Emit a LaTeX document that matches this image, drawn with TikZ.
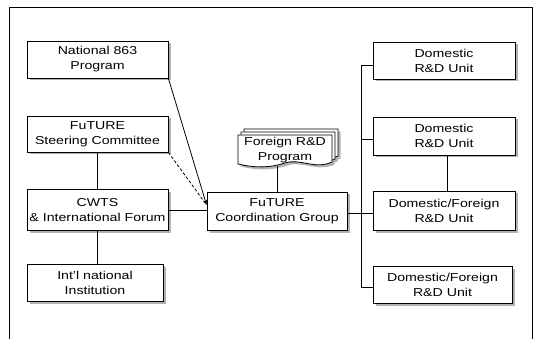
\documentclass[tikz,border=0pt]{standalone}
\usepackage{fontspec}
\setmainfont[FakeStretch=1.23]{Liberation Sans}
\usetikzlibrary{shadows,arrows.meta}
\begin{document}
\begin{tikzpicture}[x=1pt,y=-1pt,
  link/.style={line width=0.8pt},
  boxtext/.style={font=\fontsize{11.5}{15}\selectfont, align=center},
  box/.style={boxtext, draw, line width=0.8pt, fill=white, inner sep=1pt,
    drop shadow={shadow xshift=2.5pt, shadow yshift=-2.5pt, fill=gray!60, opacity=1}}]
\useasboundingbox (0,0) rectangle (535,339);
% outer frame
\draw[link] (9,339) -- (9,7) -- (532,7) -- (532,339);

% left column
\node[box, minimum width=141pt, minimum height=37pt] (nat) at (97.5,59.5) {National 863\\Program};
\node[box, minimum width=141pt, minimum height=36pt] (steer) at (97.5,134) {FuTURE\\Steering Committee};
\node[box, minimum width=141pt, minimum height=41pt] (cwts) at (97.5,210) {CWTS\\\& International Forum};
\node[box, minimum width=136pt, minimum height=37pt] (intl) at (95,282.5) {Int'l national\\Institution};

% centre
\node[box, minimum width=140pt, minimum height=38pt] (coord) at (277,211) {FuTURE\\Coordination Group};

% stacked document: Foreign R&D Program
\foreach \k in {6,3,0}{
  \fill[gray!60] (240.5+\k,137.5-\k) -- (334.5+\k,137.5-\k) -- (334.5+\k,164.5-\k)
    .. controls (317.5+\k,172.5-\k) and (302.5+\k,160.5-\k) .. (287.5+\k,165.5-\k)
    .. controls (272.5+\k,170.5-\k) and (257.5+\k,170.5-\k) .. (240.5+\k,166.5-\k) -- cycle;
}
\foreach \k in {6,3,0}{
  \draw[link, fill=white] (238+\k,135-\k) -- (332+\k,135-\k) -- (332+\k,162-\k)
    .. controls (315+\k,170-\k) and (300+\k,158-\k) .. (285+\k,163-\k)
    .. controls (270+\k,168-\k) and (255+\k,168-\k) .. (238+\k,164-\k) -- cycle;
}
\node[boxtext, minimum width=94pt, minimum height=30pt, inner sep=0pt] (foreign) at (285,150.5) {Foreign R\&D\\Program};

% right column
\node[box, minimum width=142pt, minimum height=37pt] (d1) at (444,60.5) {Domestic\\R\&D Unit};
\node[box, minimum width=142pt, minimum height=38pt] (d2) at (444,136) {Domestic\\R\&D Unit};
\node[box, minimum width=142pt, minimum height=39pt] (df1) at (444,210.5) {Domestic/Foreign\\R\&D Unit};
\node[box, minimum width=139pt, minimum height=37pt] (df2) at (442.5,284.5) {Domestic/Foreign\\R\&D Unit};

% connectors, left side
\coordinate (cin) at ([yshift=6pt]coord.west);
\draw[link] (steer.south) -- (steer.south |- cwts.north);
\draw[link] (cwts.south) -- (cwts.south |- intl.north);
\draw[link] (cwts.east) -- (cwts.east -| coord.west);
\draw[link, -{Stealth[length=5pt,width=3.5pt]}] (nat.south east) -- (cin);
\draw[link, dash pattern=on 3pt off 2pt] (steer.south east) -- (cin);
\draw[link] (coord.north) -- (coord.north |- foreign.south);

% right bus
\coordinate (b1) at (361,65);
\coordinate (b2) at (361,139);
\coordinate (b3) at (361,213);
\coordinate (b4) at (361,287);
\draw[link] (b1) -- (b4);
\draw[link] (b1) -- (b1 -| d1.west);
\draw[link] (b2) -- (b2 -| d2.west);
\draw[link] (b3) -- (b3 -| df1.west);
\draw[link] (b4) -- (b4 -| df2.west);
\draw[link] (coord.east |- b3) -- (b3);
\draw[link] ([xshift=3pt]d2.south) -- ([xshift=3pt]d2.south |- df1.north);
\end{tikzpicture}
\end{document}
